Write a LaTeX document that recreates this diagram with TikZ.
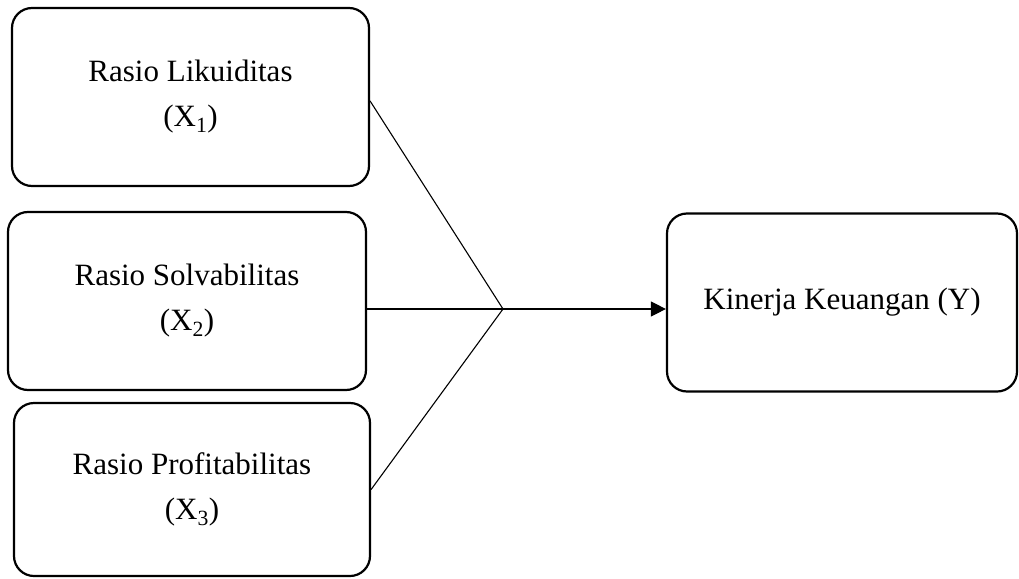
\documentclass[tikz,border=0pt]{standalone}
\usepackage{fontspec}
\setmainfont{Liberation Serif}
\usetikzlibrary{arrows.meta}
\tikzset{
  varbox/.style={draw=black, line width=2.2pt, rounded corners=20pt, align=center,
    font=\fontsize{31}{45}\selectfont, inner sep=0pt},
  conn/.style={draw=black, line width=1.1pt}
}
\begin{document}
\begin{tikzpicture}[x=1pt,y=-1pt]
\useasboundingbox (0,0) rectangle (1019,578);
\node[varbox, minimum width=357pt, minimum height=178pt] (b1) at (190.5,97) {Rasio Likuiditas\\(X\textsubscript{1})};
\node[varbox, minimum width=358pt, minimum height=178pt] (b2) at (187,301) {Rasio Solvabilitas\\(X\textsubscript{2})};
\node[varbox, minimum width=356pt, minimum height=173pt] (b3) at (192,489.5) {Rasio Profitabilitas\\(X\textsubscript{3})};
\node[varbox, minimum width=350pt, minimum height=178pt] (by) at (842,302.5) {Kinerja\ Keuangan\ (Y)};
\coordinate (j) at (503,309);
\draw[conn] ([yshift=-4pt]b1.east) -- (j);
\draw[conn] (b2.east |- j) -- (j);
\draw[conn] (b3.east) -- (j);
\draw[conn, -{Triangle[length=15pt,width=15pt]}] (j) -- (j -| by.west);
\end{tikzpicture}
\end{document}
